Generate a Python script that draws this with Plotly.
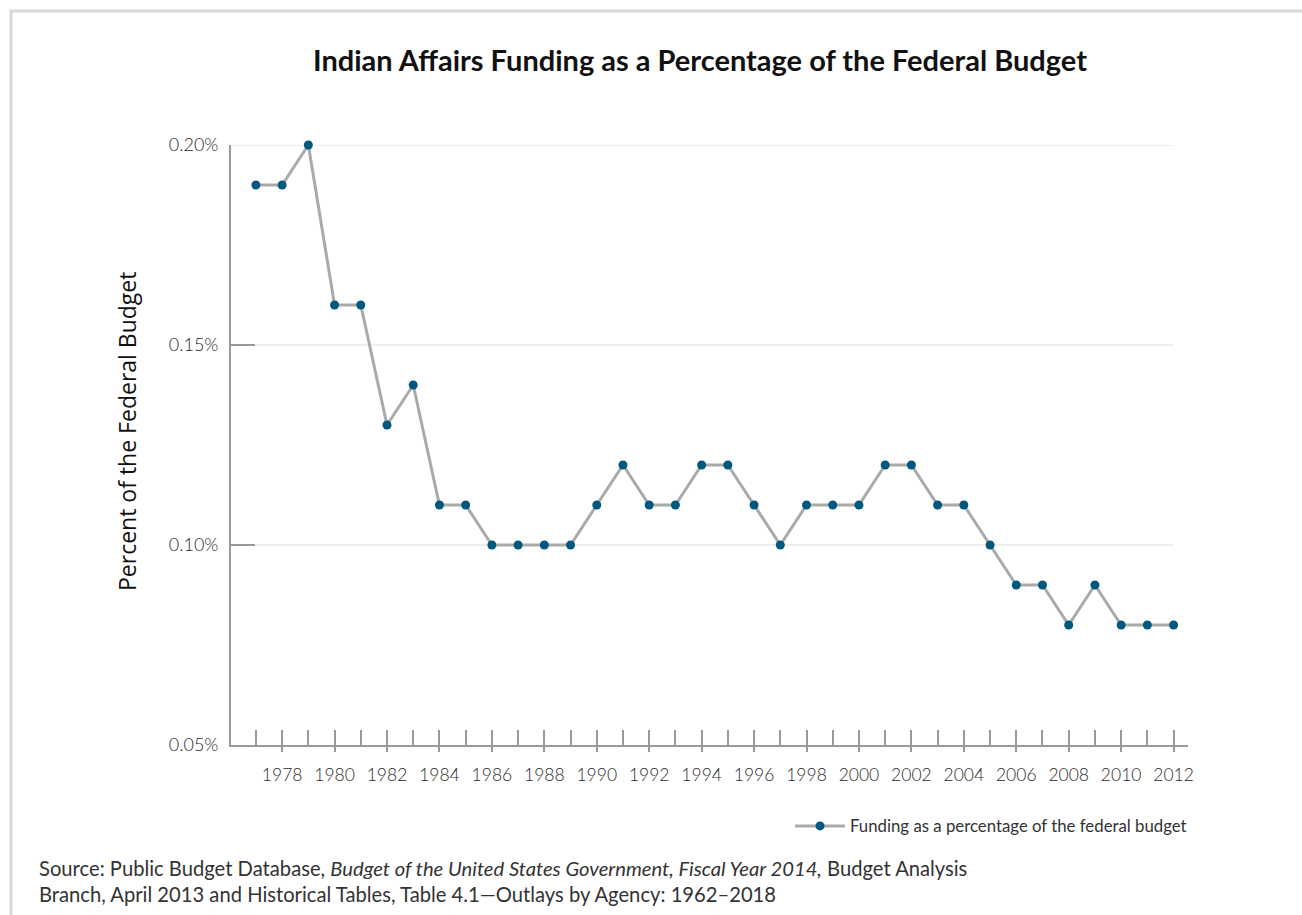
import plotly.graph_objects as go

years = list(range(1977, 2013))
pct = [0.19, 0.19, 0.20, 0.16, 0.16, 0.13, 0.14, 0.11, 0.11, 0.10,
       0.10, 0.10, 0.10, 0.11, 0.12, 0.11, 0.11, 0.12, 0.12, 0.11,
       0.10, 0.11, 0.11, 0.11, 0.12, 0.12, 0.11, 0.11, 0.10, 0.09,
       0.09, 0.08, 0.09, 0.08, 0.08, 0.08]
x_ticktext = [str(y) if y % 2 == 0 else "" for y in years]
y_ticks = [0.05, 0.10, 0.15, 0.20]
y_ticktext = ["0.05%", "0.10%", "0.15%", "0.20%"]

title_text = "Indian Affairs Funding as a Percentage of the Federal Budget"
y_title = "Percent of the Federal Budget"
series_name = "Funding as a percentage of the federal budget"
source_text = ("Source: Public Budget Database, <i>Budget of the United States Government, "
               "Fiscal Year 2014,</i> Budget Analysis<br>Branch, April 2013 and Historical Tables, "
               "Table 4.1\u2014Outlays by Agency: 1962\u20132018")

W, H = 1302, 915
L, R, T, B = 231, 1188, 145, 745
PW, PH = R - L, B - T

def px(x):
    return (x - L) / PW

def py(y):
    return (B - y) / PH

AXIS = "#9a9a9a"
FONT = "Lato, 'Open Sans', sans-serif"

fig = go.Figure()
fig.add_trace(go.Scatter(
    x=years, y=pct, mode="lines+markers", name=series_name,
    line=dict(color="#aaaaaa", width=3),
    marker=dict(color="#00577f", size=9),
    cliponaxis=False,
))
# helper trace for second x-axis (even-year outside ticks)
fig.add_trace(go.Scatter(
    x=years, y=pct, mode="lines", xaxis="x2", showlegend=False,
    line=dict(width=0, color="rgba(0,0,0,0)"), hoverinfo="skip",
))

xrange = [1976.05, 2012.55]
grid_shapes = [dict(type="line", xref="paper", yref="y", x0=0, x1=px(1173),
                    y0=v, y1=v, line=dict(color="#e8e8e8", width=1.5), layer="below")
               for v in y_ticks[1:]]
frame = dict(type="rect", xref="paper", yref="paper",
             x0=px(11), x1=px(1400), y0=py(1000), y1=py(11),
             line=dict(color="#d8d8d8", width=3), fillcolor="rgba(0,0,0,0)",
             layer="below")

fig.update_layout(
    width=W, height=H,
    margin=dict(l=L, r=W - R, t=T, b=H - B),
    paper_bgcolor="white", plot_bgcolor="white",
    title=dict(text="<b>" + title_text + "</b>", x=700 / W, xanchor="center",
               y=1 - 61 / H, yanchor="middle",
               font=dict(family=FONT, size=29, color="#111111")),
    xaxis=dict(range=xrange, tickmode="array", tickvals=years, ticktext=x_ticktext,
               ticks="inside", ticklen=15, tickwidth=2, tickcolor=AXIS,
               showline=True, linecolor=AXIS, linewidth=2, showgrid=False,
               zeroline=False, ticklabelstandoff=13,
               tickfont=dict(family=FONT, size=17.5, color="#2a2a2a", weight=300)),
    xaxis2=dict(range=xrange, overlaying="x", anchor="y", side="bottom",
                tickmode="array", tickvals=[y for y in years if y % 2 == 0],
                ticks="outside", ticklen=6, tickwidth=2, tickcolor=AXIS,
                showticklabels=False, showline=False, showgrid=False, zeroline=False),
    yaxis=dict(range=[0.05, 0.20], tickmode="array", tickvals=y_ticks,
               ticktext=y_ticktext,
               ticks="inside", ticklen=24, tickwidth=2, tickcolor=AXIS,
               showline=True, linecolor=AXIS, linewidth=2,
               showgrid=False, zeroline=False, ticklabelstandoff=7,
               tickfont=dict(family=FONT, size=18, color="#2a2a2a", weight=300)),
    showlegend=True,
    legend=dict(x=px(1192), xanchor="right", y=py(826), yanchor="middle",
                orientation="h", bgcolor="rgba(0,0,0,0)",
                font=dict(family=FONT, size=16.8, color="#333333"),
                itemwidth=50),
    annotations=[
        dict(text=source_text, xref="paper", yref="paper",
             x=px(37), y=py(881), xanchor="left", yanchor="middle",
             align="left", showarrow=False,
             font=dict(family=FONT, size=20.2, color="#333333")),
        dict(text=y_title, xref="paper", yref="paper",
             x=px(127), y=py(432), xanchor="center", yanchor="middle",
             textangle=-90, showarrow=False,
             font=dict(family="'Open Sans', sans-serif", size=23, color="#111111")),
    ],
    shapes=grid_shapes + [frame],
)

fig.write_html("out.html")
